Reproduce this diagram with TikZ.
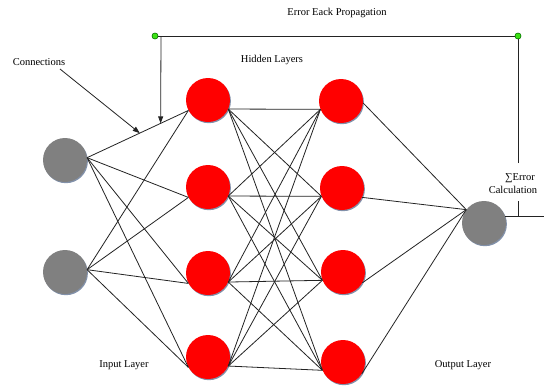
\documentclass[tikz,border=0pt]{standalone}
\usepackage{fontspec}
\setmainfont{Liberation Serif}
\usetikzlibrary{arrows.meta,shadows,calc}
\definecolor{nred}{RGB}{255,0,0}
\definecolor{ngray}{RGB}{128,128,128}
\definecolor{nshadow}{RGB}{130,145,170}
\definecolor{dotgreen}{RGB}{60,225,20}
\definecolor{linec}{RGB}{35,35,35}
\begin{document}
\begin{tikzpicture}[x=1pt,y=-1pt,
  neuron/.style={circle,minimum size=44pt,inner sep=0pt,draw=none,
    drop shadow={shadow xshift=0.9pt,shadow yshift=-1.2pt,fill=nshadow,opacity=1}},
  hid/.style={neuron,fill=nred},
  io/.style={neuron,fill=ngray},
  conn/.style={draw=linec,line width=0.8pt},
  lbl/.style={font=\fontsize{10.5}{12}\selectfont,inner sep=0pt,text=black},
  arr/.style={draw=linec,line width=0.8pt,-{Triangle[length=7pt,width=5pt]}},
  gdot/.style={circle,fill=dotgreen,draw=green!40!black,line width=0.4pt,minimum size=6pt,inner sep=0pt}]
\path[use as bounding box,fill=white] (0,0) rectangle (544,389);

% neurons
\node[io] (i1) at (65,160) {};
\node[io] (i2) at (65,272) {};
\node[hid] (h11) at (208,100) {};
\node[hid] (h12) at (208,187) {};
\node[hid] (h13) at (208,273) {};
\node[hid] (h14) at (208,357) {};
\node[hid] (h21) at (341,101) {};
\node[hid] (h22) at (342,188) {};
\node[hid] (h23) at (343,272) {};
\node[hid] (h24) at (343,362) {};
\node[io] (o) at (484,223) {};

% connections
\foreach \i in {1,2}{\foreach \j in {1,...,4}{\draw[conn] (i\i.6) -- (h1\j.208);}}
\foreach \i in {1,...,4}{\foreach \j in {1,...,4}{\draw[conn] (h1\i.336) -- (h2\j.202);}}
\draw[conn] (h21.355) -- (o.143);
\draw[conn] (h22.335) -- (o.143);
\draw[conn] (h23.331) -- (o.143);
\draw[conn] (h24.328) -- (o.143);

% labels
\node[lbl] (tEB) at (337,13) {Error Eack Propagation};
\node[lbl] (tHL) at (272,60) {Hidden Layers};
\node[lbl] (tCo) at (39,62) {Connections};
\node[lbl] (tSE) at (520,178) {∑Error};
\node[lbl] (tCa) at (513,190) {Calculation};
\node[lbl] (tIL) at (124,365) {Input Layer};
\node[lbl] (tOL) at (463,365) {Output Layer};

% feedback loop
\coordinate (edgeR) at (544,216);
\coordinate (loopR) at (518,216);
\coordinate (gapB) at (518,201);
\coordinate (gapT) at (518,163);
\node[gdot] (gR) at (518,36) {};
\node[gdot] (gL) at (155,36) {};
\coordinate (cornerL) at (161,36);
\coordinate (tipA) at ($(i1.6)!0.726!(h11.208)$);
\coordinate (tipC) at ($(i1.6)!0.52!(h11.208)$);
\coordinate (startC) at (60,69);

\draw[conn] (o.18) -- (o.18 -| edgeR);
\draw[conn] (loopR) -- (gapB);
\draw[conn] (gapT) -- (gR.center);
\draw[conn] (gL.center) -- (gR.center);
\draw[arr] (cornerL) -- (tipA);
\draw[arr] (startC) -- (tipC);
\node[gdot] at (gR) {};
\node[gdot] at (gL) {};
\end{tikzpicture}
\end{document}
